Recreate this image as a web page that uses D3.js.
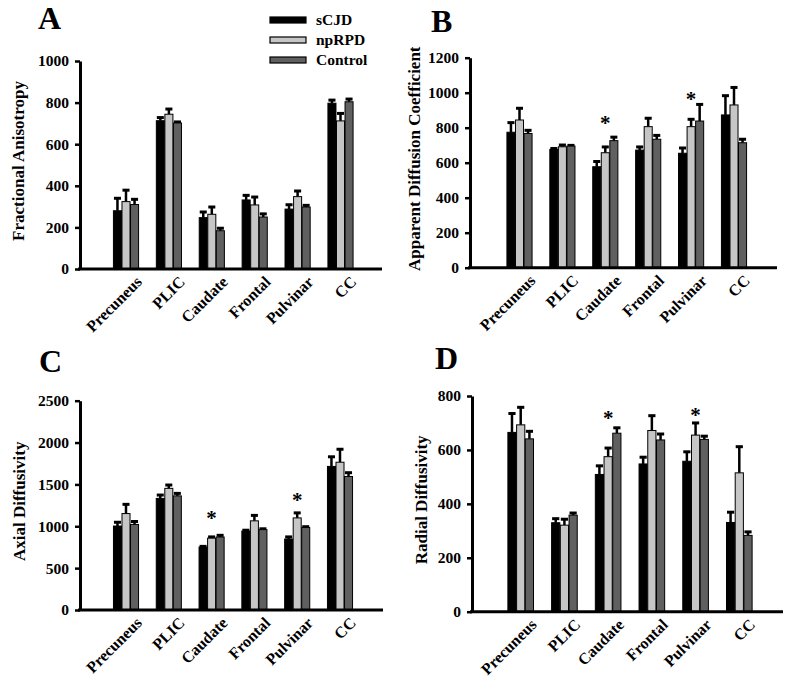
<!DOCTYPE html>
<html>
<head>
<meta charset="utf-8">
<script src="https://cdn.jsdelivr.net/npm/d3@7"></script>
<style>
  html, body { margin: 0; padding: 0; background: #fff; }
  svg text { font-family: "Liberation Serif", "Times New Roman", serif; font-weight: bold; fill: #000; }
</style>
</head>
<body>
<svg id="chart" width="800" height="681"></svg>
<script>
// ---------- data ----------
const categories = ["Precuneus", "PLIC", "Caudate", "Frontal", "Pulvinar", "CC"];
const seriesNames = ["sCJD", "npRPD", "Control"];
const seriesColors = ["#000000", "#c6c6c6", "#606060"];

// Panel A: Fractional Anisotropy
const faMean = [[280, 713, 247, 332, 288, 797], [324, 744, 263, 308, 348, 712], [310, 702, 184, 250, 298, 804]];
const faErr  = [[60, 15, 27, 22, 21, 15], [55, 25, 35, 38, 27, 36], [25, 5, 12, 15, 8, 13]];
const faTicks = [0, 200, 400, 600, 800, 1000];
const faStars = [];

// Panel B: Apparent Diffusion Coefficient
const adcMean = [[774, 676, 577, 672, 654, 873], [844, 691, 657, 806, 806, 930], [767, 695, 726, 734, 838, 714]];
const adcErr  = [[55, 5, 30, 18, 30, 110], [67, 10, 33, 48, 42, 100], [18, 4, 20, 22, 95, 20]];
const adcTicks = [0, 200, 400, 600, 800, 1000, 1200];
const adcStars = [{ cat: "Caudate", value: 860 }, { cat: "Pulvinar", value: 1000 }];

// Panel C: Axial Diffusivity
const adMean = [[1003, 1333, 752, 943, 848, 1715], [1152, 1453, 858, 1065, 1100, 1765], [1022, 1363, 872, 960, 985, 1595]];
const adErr  = [[45, 40, 8, 10, 25, 115], [110, 40, 15, 65, 60, 155], [35, 30, 20, 10, 10, 45]];
const adTicks = [0, 500, 1000, 1500, 2000, 2500];
const adStars = [{ cat: "Caudate", value: 1174 }, { cat: "Pulvinar", value: 1386 }];

// Panel D: Radial Diffusivity
const rdMean = [[665, 330, 509, 548, 558, 331], [693, 321, 575, 672, 655, 515], [641, 358, 662, 637, 639, 283]];
const rdErr  = [[70, 15, 32, 25, 35, 38], [65, 22, 32, 55, 45, 97], [28, 8, 20, 22, 12, 13]];
const rdTicks = [0, 200, 400, 600, 800];
const rdStars = [{ cat: "Caudate", value: 742 }, { cat: "Pulvinar", value: 752 }];

// ---------- layout ----------
const panels = [
  { letter: "A", title: "Fractional Anisotropy", mean: faMean, err: faErr, ticks: faTicks, stars: faStars,
    axisX: 80, xEnd: 382, y0: 269, y1: 61, c0: 126, c5: 340.5, letterX: 38, letterY: 29, titleX: 18 },
  { letter: "B", title: "Apparent Diffusion Coefficient", mean: adcMean, err: adcErr, ticks: adcTicks, stars: adcStars,
    axisX: 470, xEnd: 777, y0: 267.7, y1: 57.7, c0: 519.5, c5: 734, letterX: 431, letterY: 32, titleX: 414 },
  { letter: "C", title: "Axial Diffusivity", mean: adMean, err: adErr, ticks: adTicks, stars: adStars,
    axisX: 80, xEnd: 383, y0: 610, y1: 400.7, c0: 126, c5: 340, letterX: 39, letterY: 372, titleX: 19 },
  { letter: "D", title: "Radial Diffusivity", mean: rdMean, err: rdErr, ticks: rdTicks, stars: rdStars,
    axisX: 472, xEnd: 783, y0: 611.7, y1: 396, c0: 520.7, c5: 739.3, letterX: 435, letterY: 369, titleX: 421 }
];

const svg = d3.select("#chart");

panels.forEach(p => {
  const g = svg.append("g");
  const maxTick = p.ticks[p.ticks.length - 1];
  const y = d3.scaleLinear().domain([0, maxTick]).range([p.y0, p.y1]);
  const step = (p.c5 - p.c0) / (categories.length - 1);
  const x = d3.scaleBand().domain(categories)
    .range([p.c0 - step / 2, p.c5 + step / 2])
    .paddingInner(0.39).paddingOuter(0.195);
  const xs = d3.scaleBand().domain(seriesNames).range([0, x.bandwidth()]).padding(0.06);

  // bars
  seriesNames.forEach((s, si) => {
    const rows = categories.map((c, ci) => ({ c, v: p.mean[si][ci], e: p.err[si][ci] }));
    const sg = g.append("g");
    // error bars (upper only)
    sg.selectAll("line.eb").data(rows).join("line")
      .attr("x1", d => x(d.c) + xs(s) + xs.bandwidth() / 2)
      .attr("x2", d => x(d.c) + xs(s) + xs.bandwidth() / 2)
      .attr("y1", d => y(d.v)).attr("y2", d => y(d.v + d.e))
      .attr("stroke", "#000").attr("stroke-width", 2.5);
    sg.selectAll("line.cap").data(rows).join("line")
      .attr("x1", d => x(d.c) + xs(s) + 0.5)
      .attr("x2", d => x(d.c) + xs(s) + xs.bandwidth() - 0.5)
      .attr("y1", d => y(d.v + d.e)).attr("y2", d => y(d.v + d.e))
      .attr("stroke", "#000").attr("stroke-width", 3);
    sg.selectAll("rect").data(rows).join("rect")
      .attr("x", d => x(d.c) + xs(s))
      .attr("width", xs.bandwidth())
      .attr("y", d => y(d.v))
      .attr("height", d => y(0) - y(d.v))
      .attr("fill", seriesColors[si])
      .attr("stroke", "#000").attr("stroke-width", 1);
  });

  // y axis
  const yAxis = d3.axisLeft(y).tickValues(p.ticks).tickFormat(d3.format("d"))
    .tickSize(5).tickPadding(6).tickSizeOuter(0);
  const ya = g.append("g").attr("transform", `translate(${p.axisX},0)`).call(yAxis);
  ya.attr("font-family", null).attr("font-size", null);
  ya.select(".domain").attr("stroke-width", 3).attr("stroke", "#000");
  ya.selectAll(".tick line").attr("stroke-width", 2.5).attr("stroke", "#000");
  ya.selectAll(".tick text").style("font-size", "15.5px");

  // x axis
  const xAxisScale = d3.scaleLinear().domain([0, 1]).range([p.axisX - 2, p.xEnd]);
  g.append("line").attr("x1", xAxisScale(0)).attr("x2", xAxisScale(1))
    .attr("y1", y(0)).attr("y2", y(0)).attr("stroke", "#000").attr("stroke-width", 3);

  // x labels
  g.selectAll("text.xl").data(categories).join("text")
    .attr("class", "xl")
    .attr("transform", d => `translate(${x(d) + x.bandwidth() / 2 + 9},${y(0) + 6}) rotate(-45)`)
    .attr("text-anchor", "end")
    .attr("dy", "0.7em")
    .style("font-size", "16px")
    .text(d => d);

  // y title
  g.append("text")
    .attr("transform", `translate(${p.titleX},${(p.y0 + p.y1) / 2 - 4}) rotate(-90)`)
    .attr("text-anchor", "middle")
    .attr("dy", "0.35em")
    .style("font-size", "17px")
    .text(p.title);

  // panel letter
  g.append("text").attr("x", p.letterX).attr("y", p.letterY)
    .style("font-size", "32px").text(p.letter);

  // significance stars
  g.selectAll("text.star").data(p.stars).join("text")
    .attr("x", d => x(d.cat) + x.bandwidth() / 2)
    .attr("y", d => y(d.value))
    .attr("text-anchor", "middle")
    .attr("dy", "0.62em")
    .style("font-size", "21px")
    .text("*");
});

// legend (panel A)
const legend = svg.append("g");
const ly = d3.scaleBand().domain(seriesNames).range([12, 72]);
seriesNames.forEach((s, i) => {
  legend.append("rect").attr("x", 270).attr("y", ly(s) + 5).attr("width", 36).attr("height", 6)
    .attr("fill", seriesColors[i]).attr("stroke", "#000").attr("stroke-width", 1.2);
  legend.append("text").attr("x", 316).attr("y", ly(s) + 13)
    .style("font-size", "15.5px").text(s);
});
</script>
</body>
</html>
